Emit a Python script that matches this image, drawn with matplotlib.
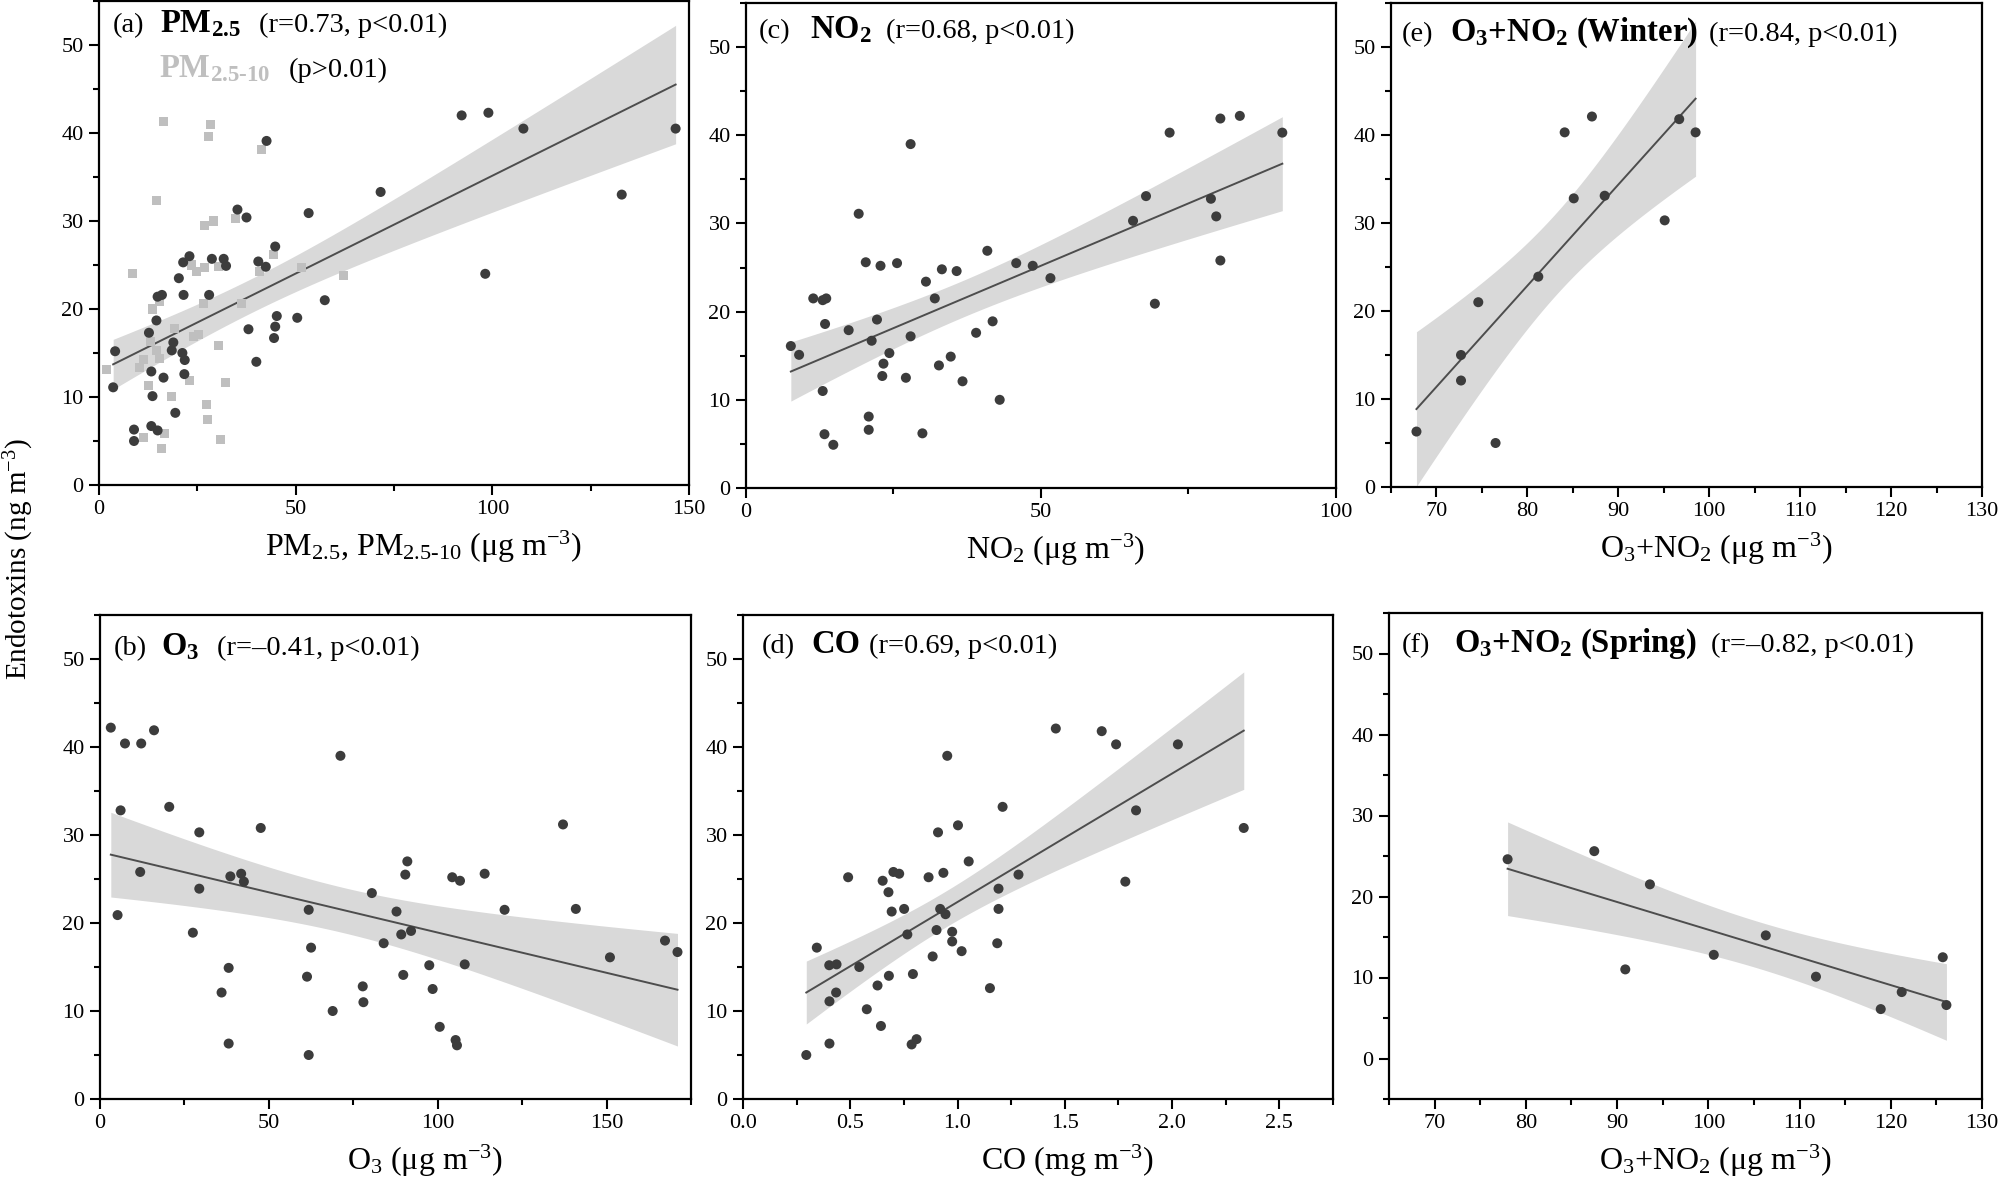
import numpy as np
import matplotlib
matplotlib.use("Agg")
import matplotlib.pyplot as plt
from matplotlib.ticker import MultipleLocator, FormatStrFormatter

plt.rcParams['font.family'] = ['Liberation Serif', 'DejaVu Serif']
plt.rcParams['mathtext.fontset'] = 'custom'
plt.rcParams['mathtext.rm'] = 'Liberation Serif'
plt.rcParams['mathtext.it'] = 'Liberation Serif:italic'
plt.rcParams['mathtext.bf'] = 'Liberation Serif:bold'
plt.rcParams['mathtext.default'] = 'regular'

# ---------------- data ----------------
# (a) PM2.5 (dark circles) and PM2.5-10 (grey squares)
pm25_x = [92.2, 99.0, 107.9, 146.6, 42.6, 71.6, 132.9, 53.3, 35.2, 37.5, 44.8, 23.0, 21.4, 28.7,
          31.7, 32.3, 40.5, 42.4, 20.3, 98.2, 16.0, 14.9, 21.5, 28.0, 57.4, 14.6, 45.2, 50.4,
          44.8, 38.0, 44.5, 12.7, 18.9, 18.5, 4.1, 21.2, 21.8, 40.0, 13.3, 16.4, 21.7, 3.6,
          13.6, 19.4, 8.9, 13.3, 14.9, 8.9]
pm25_y = [42.0, 42.3, 40.5, 40.5, 39.1, 33.3, 33.0, 30.9, 31.3, 30.4, 27.1, 26.0, 25.3, 25.7,
          25.7, 24.9, 25.4, 24.8, 23.5, 24.0, 21.6, 21.4, 21.6, 21.6, 21.0, 18.7, 19.2, 19.0,
          18.0, 17.7, 16.7, 17.3, 16.2, 15.3, 15.2, 15.0, 14.2, 14.0, 12.9, 12.2, 12.6, 11.1,
          10.1, 8.2, 6.3, 6.7, 6.2, 5.0]
pmc_x = [16.5, 28.4, 27.9, 41.2, 14.7, 29.0, 26.9, 34.8, 44.4, 23.6, 26.9, 24.7, 30.5, 40.9,
         51.5, 8.4, 62.1, 15.3, 13.6, 26.6, 36.3, 19.3, 24.1, 25.3, 13.2, 30.5, 14.6, 11.4,
         15.4, 10.2, 1.8, 23.1, 32.1, 12.7, 18.5, 27.3, 27.5, 16.7, 11.3, 30.9, 15.9]
pmc_y = [41.3, 41.0, 39.6, 38.1, 32.3, 30.0, 29.5, 30.3, 26.2, 25.0, 24.7, 24.3, 24.8, 24.3,
         24.7, 24.0, 23.8, 20.8, 20.0, 20.6, 20.6, 17.8, 16.9, 17.1, 16.3, 15.8, 15.3, 14.3,
         14.4, 13.3, 13.1, 11.9, 11.7, 11.3, 10.1, 9.2, 7.4, 5.9, 5.4, 5.2, 4.1]

# (b) O3
o3_x = [3.2, 7.4, 12.2, 16.0, 6.1, 20.5, 71.2, 29.4, 47.6, 137.1, 11.9, 29.4, 5.2, 27.5, 38.6,
        41.8, 42.6, 38.1, 36.0, 38.1, 61.8, 62.5, 61.3, 61.8, 68.9, 77.8, 78.0, 80.5, 84.0,
        87.8, 91.0, 90.4, 89.2, 92.1, 89.8, 97.5, 98.5, 100.6, 105.3, 105.7, 104.3, 106.6,
        108.0, 113.9, 119.8, 140.9, 151.0, 167.3, 171.0]
o3_y = [42.2, 40.4, 40.4, 41.9, 32.8, 33.2, 39.0, 30.3, 30.8, 31.2, 25.8, 23.9, 20.9, 18.9, 25.3,
        25.6, 24.7, 14.9, 12.1, 6.3, 21.5, 17.2, 13.9, 5.0, 10.0, 12.8, 11.0, 23.4, 17.7,
        21.3, 27.0, 25.5, 18.7, 19.1, 14.1, 15.2, 12.5, 8.2, 6.7, 6.1, 25.2, 24.8,
        15.3, 25.6, 21.5, 21.6, 16.1, 18.0, 16.7]

# (c) NO2
no2_x = [7.6, 9.0, 11.4, 13.0, 13.6, 13.4, 13.0, 13.3, 14.8, 17.4, 19.1, 20.3, 20.8, 20.8, 21.3,
         22.2, 22.8, 23.3, 23.1, 24.3, 25.6, 27.1, 27.9, 27.9, 29.9, 30.5, 32.0, 32.7, 33.2,
         34.7, 35.7, 36.7, 39.0, 40.9, 41.8, 43.0, 45.8, 48.6, 51.6, 65.6, 67.8, 69.3, 71.8,
         78.8, 79.7, 80.4, 80.4, 83.7, 90.9]
no2_y = [16.1, 15.1, 21.5, 21.3, 21.5, 18.6, 11.0, 6.1, 4.9, 17.9, 31.1, 25.6, 8.1, 6.6, 16.7,
         19.1, 25.2, 14.1, 12.7, 15.3, 25.5, 12.5, 39.0, 17.2, 6.2, 23.4, 21.5, 13.9, 24.8,
         14.9, 24.6, 12.1, 17.6, 26.9, 18.9, 10.0, 25.5, 25.2, 23.8, 30.3, 33.1, 20.9, 40.3,
         32.8, 30.8, 25.8, 41.9, 42.2, 40.3]

# (d) CO
co_x = [0.295, 0.344, 0.402, 0.436, 0.403, 0.434, 0.403, 0.490, 0.542, 0.577, 0.627, 0.643,
        0.651, 0.678, 0.680, 0.693, 0.701, 0.728, 0.751, 0.766, 0.792, 0.786, 0.809, 0.865,
        0.884, 0.902, 0.909, 0.919, 0.934, 0.944, 0.952, 0.975, 0.975, 1.002, 1.019, 1.052,
        1.151, 1.185, 1.191, 1.191, 1.210, 1.284, 1.458, 1.672, 1.739, 1.782, 1.832, 2.027,
        2.334]
co_y = [5.0, 17.2, 15.2, 15.3, 11.1, 12.1, 6.3, 25.2, 15.0, 10.2, 12.9, 8.3, 24.8, 23.5, 14.0,
        21.3, 25.8, 25.6, 21.6, 18.7, 14.2, 6.2, 6.8, 25.2, 16.2, 19.2, 30.3, 21.6, 25.7, 21.0,
        39.0, 19.0, 17.9, 31.1, 16.8, 27.0, 12.6, 17.7, 21.6, 23.9, 33.2, 25.5, 42.1, 41.8,
        40.3, 24.7, 32.8, 40.3, 30.8]

# (e) O3+NO2 winter
win_x = [67.8, 72.7, 72.7, 74.6, 76.5, 81.2, 84.1, 85.1, 87.1, 88.5, 95.1, 96.7, 98.5]
win_y = [6.3, 15.0, 12.1, 21.0, 5.0, 23.9, 40.3, 32.8, 42.1, 33.1, 30.3, 41.8, 40.3]

# (f) O3+NO2 spring
spr_x = [78.0, 87.5, 90.9, 93.6, 100.6, 106.3, 111.8, 118.9, 121.2, 125.7, 126.1]
spr_y = [24.6, 25.6, 11.0, 21.5, 12.8, 15.2, 10.1, 6.1, 8.2, 12.5, 6.6]

panel_tags = {'a': "(a)", 'b': "(b)", 'c': "(c)", 'd': "(d)", 'e': "(e)", 'f': "(f)"}
panel_names = {
    'a': r"PM$_{2.5}$",
    'b': r"O$_3$",
    'c': r"NO$_2$",
    'd': "CO",
    'e': r"O$_3$+NO$_2$ (Winter)",
    'f': r"O$_3$+NO$_2$ (Spring)",
}
panel_stats = {
    'a': "(r=0.73, p<0.01)",
    'b': "(r=–0.41, p<0.01)",
    'c': "(r=0.68, p<0.01)",
    'd': "(r=0.69, p<0.01)",
    'e': "(r=0.84, p<0.01)",
    'f': "(r=–0.82, p<0.01)",
}
coarse_name = r"PM$_{2.5‐10}$"
coarse_stat = "(p>0.01)"
xlabels = {
    'a': r"PM$_{2.5}$, PM$_{2.5‐10}$ (μg m$^{-3}$)",
    'b': r"O$_3$ (μg m$^{-3}$)",
    'c': r"NO$_2$ (μg m$^{-3}$)",
    'd': r"CO (mg m$^{-3}$)",
    'e': r"O$_3$+NO$_2$ (μg m$^{-3}$)",
    'f': r"O$_3$+NO$_2$ (μg m$^{-3}$)",
}
ylabel = r"Endotoxins (ng m$^{-3}$)"

# ---------------- style ----------------
DARK = '#3c3c3c'
LIGHT = '#bfbfbf'
BAND = '#d9d9d9'
LINE = '#4d4d4d'

W, H = 1999, 1185
fig = plt.figure(figsize=(W / 100, H / 100), dpi=100)


def add_ax(l, t, r, b):
    ax = fig.add_axes([l / W, 1 - b / H, (r - l) / W, (b - t) / H])
    ax._px = (r - l, b - t)
    return ax


def t975(df):
    z = 1.959964
    g1 = (z**3 + z) / 4
    g2 = (5 * z**5 + 16 * z**3 + 3 * z) / 96
    g3 = (3 * z**7 + 19 * z**5 + 17 * z**3 - 15 * z) / 384
    g4 = (79 * z**9 + 776 * z**7 + 1482 * z**5 - 1920 * z**3 - 945 * z) / 92160
    return z + g1 / df + g2 / df**2 + g3 / df**3 + g4 / df**4


def fit_band(ax, x, y):
    x = np.asarray(x, float)
    y = np.asarray(y, float)
    n = len(x)
    b, a = np.polyfit(x, y, 1)
    res = y - (a + b * x)
    s = np.sqrt(np.sum(res**2) / (n - 2))
    xm = x.mean()
    sxx = np.sum((x - xm)**2)
    xs = np.linspace(x.min(), x.max(), 200)
    yh = a + b * xs
    se = s * np.sqrt(1.0 / n + (xs - xm)**2 / sxx)
    t = t975(n - 2)
    ax.fill_between(xs, yh - t * se, yh + t * se, color=BAND, lw=0, zorder=1)
    ax.plot(xs, yh, color=LINE, lw=1.4, zorder=2)


def style(ax, xlim, ylim, xmaj, xmin, xfmt=None, lab_x=0.55):
    ax.set_xlim(*xlim)
    ax.set_ylim(*ylim)
    ax.xaxis.set_major_locator(MultipleLocator(xmaj))
    ax.xaxis.set_minor_locator(MultipleLocator(xmin))
    ax.yaxis.set_major_locator(MultipleLocator(10))
    ax.yaxis.set_minor_locator(MultipleLocator(5))
    if xfmt:
        ax.xaxis.set_major_formatter(FormatStrFormatter(xfmt))
    ax.tick_params(which='major', direction='out', length=7, width=1.5,
                   labelsize=16, pad=4)
    ax.tick_params(which='minor', direction='out', length=4, width=1.5)
    for sp in ax.spines.values():
        sp.set_linewidth(1.6)


def scatter(ax, x, y, color=DARK, marker='o', s=52):
    ax.scatter(x, y, s=s, c=color, marker=marker, edgecolors='none', zorder=3)


NFS = 20.5   # normal title text
BFS = 23.5   # bold panel name
XFS = 23     # axis labels


def title(ax, key, xs_px, dy_px):
    wpx, hpx = ax._px
    y = 1 - dy_px / hpx
    ax.text(xs_px[0] / wpx, y, panel_tags[key], transform=ax.transAxes,
            fontsize=NFS, va='baseline')
    ax.text(xs_px[1] / wpx, y, panel_names[key], transform=ax.transAxes,
            fontsize=BFS, fontweight='bold', va='baseline')
    ax.text(xs_px[2] / wpx, y, panel_stats[key], transform=ax.transAxes,
            fontsize=NFS, va='baseline')


def xlabel(ax, key, lab_x):
    ax.set_xlabel(xlabels[key], fontsize=XFS, labelpad=7)
    ax.xaxis.set_label_coords(lab_x, ax.xaxis.label.get_position()[1])
    ax.xaxis.label.set_x(lab_x)


# (a)
ax = add_ax(99, 1, 689, 485)
scatter(ax, pmc_x, pmc_y, LIGHT, 's', 42)
fit_band(ax, pm25_x, pm25_y)
scatter(ax, pm25_x, pm25_y)
style(ax, (0, 150), (0, 55), 50, 25)
title(ax, 'a', (14, 61, 160), 31)
wpx, hpx = ax._px
ax.text(60 / wpx, 1 - 76 / hpx, coarse_name, transform=ax.transAxes, fontsize=BFS,
        fontweight='bold', va='baseline', color=LIGHT)
ax.text(190 / wpx, 1 - 76 / hpx, coarse_stat, transform=ax.transAxes, fontsize=NFS,
        va='baseline')
ax.set_xlabel(xlabels['a'], fontsize=XFS, labelpad=7)
ax.xaxis.label.set_x(0.55)

# (c)
ax = add_ax(746, 3, 1336, 488)
fit_band(ax, no2_x, no2_y)
scatter(ax, no2_x, no2_y)
style(ax, (0, 100), (0, 55), 50, 25)
title(ax, 'c', (13, 64, 140), 35)
ax.set_xlabel(xlabels['c'], fontsize=XFS, labelpad=7)
ax.xaxis.label.set_x(0.525)

# (e)
ax = add_ax(1391, 3, 1982, 487)
fit_band(ax, win_x, win_y)
scatter(ax, win_x, win_y)
style(ax, (65, 130), (0, 55), 10, 5)
title(ax, 'e', (11, 59, 318), 38)
ax.set_xlabel(xlabels['e'], fontsize=XFS, labelpad=7)
ax.xaxis.label.set_x(0.55)

# (b)
ax = add_ax(100, 615, 691, 1099)
fit_band(ax, o3_x, o3_y)
scatter(ax, o3_x, o3_y)
style(ax, (0, 175), (0, 55), 50, 25)
title(ax, 'b', (14, 61, 117), 40)
ax.set_xlabel(xlabels['b'], fontsize=XFS, labelpad=7)
ax.xaxis.label.set_x(0.55)

# (d)
ax = add_ax(743, 615, 1333, 1099)
fit_band(ax, co_x, co_y)
scatter(ax, co_x, co_y)
style(ax, (0, 2.75), (0, 55), 0.5, 0.25, '%.1f')
title(ax, 'd', (19, 68, 126), 38)
ax.set_xlabel(xlabels['d'], fontsize=XFS, labelpad=7)
ax.xaxis.label.set_x(0.55)

# (f)
ax = add_ax(1389, 613, 1982, 1099)
fit_band(ax, spr_x, spr_y)
scatter(ax, spr_x, spr_y)
style(ax, (65, 130), (-5, 55), 10, 5)
title(ax, 'f', (13, 65, 322), 39)
ax.set_xlabel(xlabels['f'], fontsize=XFS, labelpad=7)
ax.xaxis.label.set_x(0.55)

fig.text(19 / W, 1 - 559 / H, ylabel, rotation=90, fontsize=21, va='center', ha='center')

fig.savefig("out.png", dpi=100)
